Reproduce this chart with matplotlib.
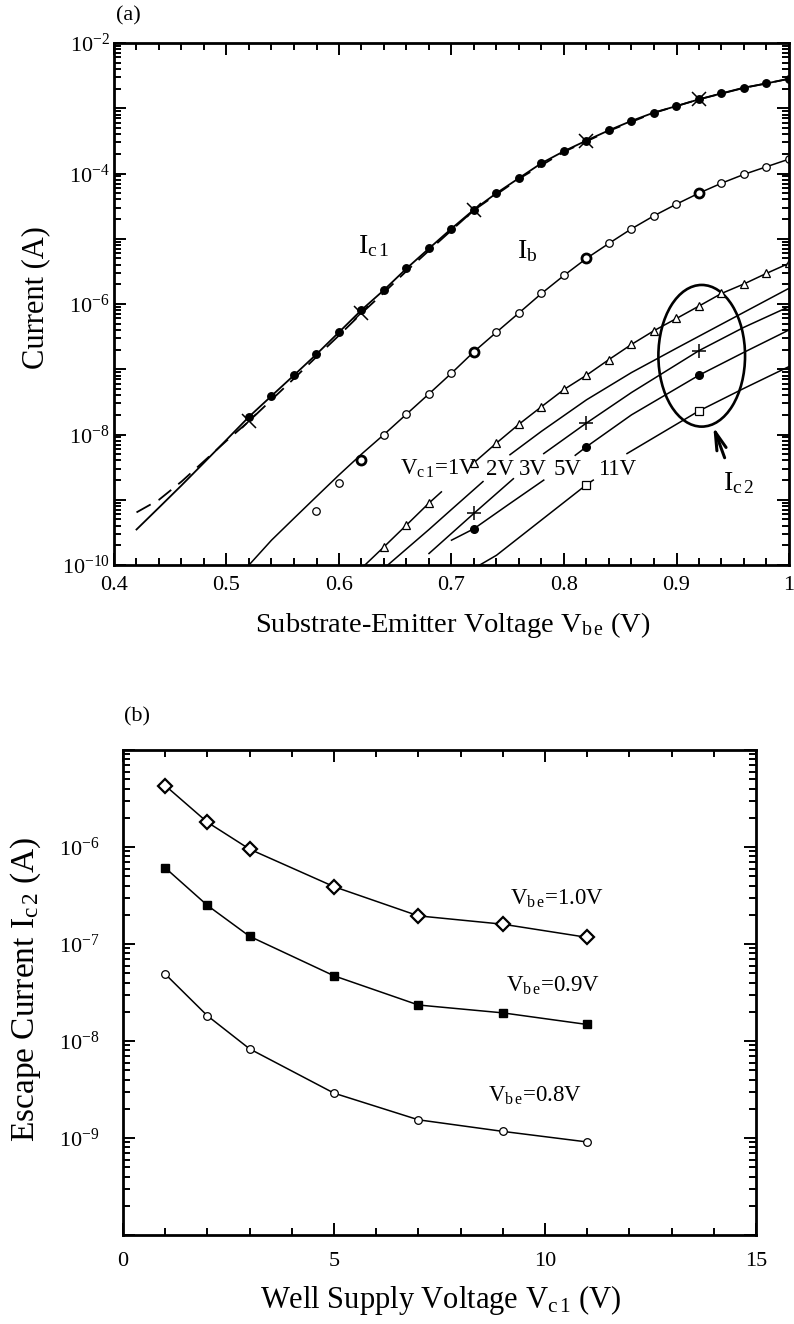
import numpy as np
import matplotlib
matplotlib.use('Agg')
import matplotlib.pyplot as plt
from matplotlib.ticker import LogLocator, FuncFormatter, MultipleLocator, NullFormatter
from matplotlib.patches import Ellipse

plt.rcParams['font.family'] = ['Liberation Serif', 'DejaVu Serif']
plt.rcParams['mathtext.fontset'] = 'custom'
plt.rcParams['mathtext.rm'] = 'Liberation Serif'
plt.rcParams['mathtext.it'] = 'Liberation Serif:italic'
plt.rcParams['mathtext.bf'] = 'Liberation Serif:bold'

nan = np.nan

# ---------------- (a) data ----------------
# I_c1 solid line and filled-circle data
ic1_line_v = [0.42, 0.44, 0.46, 0.48, 0.50]
ic1_line_i = [3.5e-10, 7.6e-10, 1.66e-9, 3.7e-9, 8.3e-9]
ic1_v = [0.52, 0.54, 0.56, 0.58, 0.60, 0.62, 0.64, 0.66, 0.68, 0.70, 0.72, 0.74, 0.76,
         0.78, 0.80, 0.82, 0.84, 0.86, 0.88, 0.90, 0.92, 0.94, 0.96, 0.98, 1.00]
ic1_i = [1.87e-8, 3.9e-8, 8.1e-8, 1.7e-7, 3.7e-7, 8.1e-7, 1.64e-6, 3.5e-6, 7.1e-6, 1.43e-5,
         2.8e-5, 5.0e-5, 8.5e-5, 1.44e-4, 2.2e-4, 3.2e-4, 4.6e-4, 6.4e-4, 8.6e-4, 1.08e-3,
         1.37e-3, 1.69e-3, 2.07e-3, 2.4e-3, 2.84e-3]
# I_c1 dashed curve
ic1_dash_v = [0.42, 0.44, 0.46, 0.48, 0.50, 0.52, 0.54, 0.56, 0.58, 0.60, 0.62, 0.64, 0.66,
              0.68, 0.70, 0.72, 0.76, 0.80, 0.84, 0.88, 0.92, 0.96, 1.00]
ic1_dash_i = [6.4e-10, 1.0e-9, 1.9e-9, 3.9e-9, 8.0e-9, 1.6e-8, 3.4e-8, 7.2e-8, 1.55e-7,
              3.3e-7, 7.2e-7, 1.5e-6, 3.2e-6, 6.6e-6, 1.35e-5, 2.75e-5, 8.3e-5, 2.15e-4,
              4.5e-4, 8.5e-4, 1.37e-3, 2.05e-3, 2.82e-3]
# I_c1 cross markers
ic1_x_v = [0.52, 0.62, 0.72, 0.82, 0.92]
ic1_x_i = [1.6e-8, 7.2e-7, 2.75e-5, 3.2e-4, 1.37e-3]

# I_b line
ib_line_v = [0.52, 0.54, 0.56, 0.58, 0.60, 0.62, 0.64, 0.66, 0.68, 0.70, 0.72, 0.74, 0.76,
             0.78, 0.80, 0.82, 0.84, 0.86, 0.88, 0.90, 0.92, 0.94, 0.96, 0.98, 1.00]
ib_line_i = [1.0e-10, 2.4e-10, 5.2e-10, 1.12e-9, 2.4e-9, 5.0e-9, 1.0e-8, 2.05e-8, 4.2e-8,
             8.7e-8, 1.86e-7, 3.7e-7, 7.3e-7, 1.45e-6, 2.74e-6, 5.0e-6, 8.5e-6, 1.42e-5,
             2.25e-5, 3.4e-5, 5.0e-5, 7.1e-5, 9.7e-5, 1.27e-4, 1.66e-4]
# I_b open circles
ib_v = [0.58, 0.60, 0.64, 0.66, 0.68, 0.70, 0.72, 0.74, 0.76, 0.78, 0.80, 0.82, 0.84,
        0.86, 0.88, 0.90, 0.92, 0.94, 0.96, 0.98, 1.00]
ib_i = [6.8e-10, 1.8e-9, 9.7e-9, 2.05e-8, 4.2e-8, 8.7e-8, 1.86e-7, 3.7e-7, 7.3e-7, 1.45e-6,
        2.74e-6, 5.0e-6, 8.5e-6, 1.42e-5, 2.25e-5, 3.4e-5, 5.0e-5, 7.1e-5, 9.7e-5, 1.27e-4,
        1.66e-4]
# I_b bold circles
ib_bold_v = [0.62, 0.72, 0.82, 0.92]
ib_bold_i = [4.1e-9, 1.86e-7, 5.0e-6, 5.0e-5]

# I_c2 curves (NaN = gap where label sits)
ic2_1v_v = [0.62, 0.64, 0.66, 0.68, 0.691, nan, 0.72, 0.74, 0.76, 0.78, 0.80, 0.82, 0.84,
            0.86, 0.88, 0.90, 0.92, 0.94, 0.96, 0.98, 1.00]
ic2_1v_i = [8.9e-11, 1.9e-10, 4.1e-10, 8.9e-10, 1.32e-9, nan, 3.7e-9, 7.4e-9, 1.44e-8,
            2.67e-8, 4.9e-8, 8.1e-8, 1.41e-7, 2.4e-7, 3.9e-7, 6.0e-7, 9.3e-7, 1.45e-6,
            2.03e-6, 2.95e-6, 4.2e-6]
ic2_1v_mk_v = [0.64, 0.66, 0.68, 0.72, 0.74, 0.76, 0.78, 0.80, 0.82, 0.84, 0.86, 0.88,
               0.90, 0.92, 0.94, 0.96, 0.98, 1.00]
ic2_1v_mk_i = [1.9e-10, 4.1e-10, 8.9e-10, 3.7e-9, 7.4e-9, 1.44e-8, 2.67e-8, 4.9e-8, 8.1e-8,
               1.41e-7, 2.4e-7, 3.9e-7, 6.0e-7, 9.3e-7, 1.45e-6, 2.03e-6, 2.95e-6, 4.2e-6]

ic2_2v_v = [0.64, 0.68, 0.70, 0.728, nan, 0.752, 0.78, 0.82, 0.86, 0.90, 0.94, 1.00]
ic2_2v_i = [8.9e-11, 3.5e-10, 7.1e-10, 1.9e-9, nan, 4.9e-9, 1.12e-8, 3.4e-8, 8.9e-8,
            2.1e-7, 4.9e-7, 1.74e-6]

ic2_3v_v = [0.68, 0.72, 0.755, nan, 0.782, 0.82, 0.86, 0.92, 0.96, 1.00]
ic2_3v_i = [1.5e-10, 6.2e-10, 2.1e-9, nan, 5.1e-9, 1.5e-8, 4.4e-8, 1.93e-7, 4.4e-7, 9.1e-7]
ic2_3v_mk_v = [0.72, 0.82, 0.92]
ic2_3v_mk_i = [6.2e-10, 1.5e-8, 1.93e-7]

ic2_5v_v = [0.70, 0.72, 0.75, 0.782, nan, 0.81, 0.82, 0.86, 0.92, 0.96, 1.00]
ic2_5v_i = [2.4e-10, 3.6e-10, 8.3e-10, 2.0e-9, nan, 4.8e-9, 6.5e-9, 2.0e-8, 8.1e-8,
            1.82e-7, 4.0e-7]
ic2_5v_mk_v = [0.72, 0.82, 0.92]
ic2_5v_mk_i = [3.6e-10, 6.5e-9, 8.1e-8]

ic2_11v_v = [0.722, 0.74, 0.78, 0.82, 0.826, nan, 0.856, 0.92, 0.96, 1.00]
ic2_11v_i = [9.3e-11, 1.41e-10, 4.9e-10, 1.7e-9, 2.0e-9, nan, 5.1e-9, 2.3e-8, 5.1e-8, 1.1e-7]
ic2_11v_mk_v = [0.82, 0.92]
ic2_11v_mk_i = [1.7e-9, 2.3e-8]

# ---------------- (b) data ----------------
vc1 = [1, 2, 3, 5, 7, 9, 11]
ic2_vbe10 = [4.3e-6, 1.8e-6, 9.5e-7, 3.9e-7, 1.95e-7, 1.6e-7, 1.17e-7]
ic2_vbe09 = [6.1e-7, 2.5e-7, 1.2e-7, 4.7e-8, 2.35e-8, 1.95e-8, 1.48e-8]
ic2_vbe08 = [4.9e-8, 1.82e-8, 8.3e-9, 2.9e-9, 1.54e-9, 1.17e-9, 9.1e-10]

# ---------------- figure ----------------
W, H = 794, 1324
fig = plt.figure(figsize=(W / 100, H / 100), dpi=100)

def fx(px):
    return px / W

def fy(py):
    return 1 - py / H

ax1 = fig.add_axes([fx(114), fy(565), (789 - 114) / W, (565 - 43) / H])
ax2 = fig.add_axes([fx(123), fy(1235), (756 - 123) / W, (1235 - 750) / H])

LW = 1.1
K = 'black'

# --- (a) ---
ax1.plot(ic1_line_v + ic1_v, ic1_line_i + ic1_i, '-', color=K, lw=1.3)
ax1.plot(ic1_dash_v, ic1_dash_i, color=K, lw=1.3, linestyle=(0, (9, 5)))
ax1.plot(ic1_v, ic1_i, 'o', color=K, ms=5.4, mfc=K, mec=K)
ax1.plot(ic1_x_v, ic1_x_i, 'x', color=K, ms=10, mew=1.1)

ax1.plot(ib_line_v, ib_line_i, '-', color=K, lw=LW)
ax1.plot(ib_v, ib_i, 'o', ms=5.4, mfc='white', mec=K, mew=0.9)
ax1.plot(ib_bold_v, ib_bold_i, 'o', ms=6.5, mfc='white', mec=K, mew=2.0)

ax1.plot(ic2_1v_v, ic2_1v_i, '-', color=K, lw=LW)
ax1.plot(ic2_1v_mk_v, ic2_1v_mk_i, '^', ms=5.5, mfc='white', mec=K, mew=0.9)
ax1.plot(ic2_2v_v, ic2_2v_i, '-', color=K, lw=LW)
ax1.plot(ic2_3v_v, ic2_3v_i, '-', color=K, lw=LW)
ax1.plot(ic2_3v_mk_v, ic2_3v_mk_i, '+', ms=10, mec=K, mew=1.1)
ax1.plot(ic2_5v_v, ic2_5v_i, '-', color=K, lw=LW)
ax1.plot(ic2_5v_mk_v, ic2_5v_mk_i, 'o', ms=5.5, mfc=K, mec=K)
ax1.plot(ic2_11v_v, ic2_11v_i, '-', color=K, lw=LW)
ax1.plot(ic2_11v_mk_v, ic2_11v_mk_i, 's', ms=5.8, mfc='white', mec=K, mew=0.9)

ax1.set_xlim(0.4, 1.0)
ax1.set_yscale('log')
ax1.set_ylim(1e-10, 1e-2)

ax1.xaxis.set_major_locator(MultipleLocator(0.1))
ax1.xaxis.set_minor_locator(MultipleLocator(0.02))
ax1.xaxis.set_major_formatter(FuncFormatter(lambda x, p: f'{round(x, 2):g}'))
ax1.yaxis.set_major_locator(LogLocator(base=10, numticks=30))
ax1.yaxis.set_minor_locator(LogLocator(base=10, subs=np.arange(2, 10), numticks=100))
ax1.yaxis.set_minor_formatter(NullFormatter())

def fmt_top(y, pos):
    e = int(round(np.log10(y)))
    return r'$\mathregular{10^{%d}}$' % e if e % 2 == 0 else ''

ax1.yaxis.set_major_formatter(FuncFormatter(fmt_top))

ell = Ellipse((0.8707, 0.4008), 0.1284, 0.2714, transform=ax1.transAxes,
              fill=False, lw=1.9, ec=K)
ax1.add_patch(ell)
ax1.annotate('', xy=(0.9327, 1.32e-8), xytext=(0.9428, 4.4e-9),
             arrowprops=dict(arrowstyle='->,head_length=1.3,head_width=0.35',
                             lw=2.2, color=K, shrinkA=0, shrinkB=0))

ax1.text(0.6169, 6.05e-6, r'I$_{\rm c\,1}$', fontsize=20, ha='left', va='baseline')
ax1.text(0.7582, 5.07e-6, r'I$_{\rm b}$', fontsize=20, ha='left', va='baseline')
ax1.text(0.9413, 1.41e-9, r'I$_{\rm c\,2}$', fontsize=20, ha='left', va='baseline')

lab_y = 2.4e-9
ax1.text(0.6542, lab_y, r'V$_{\rm c\,1}$=1V', fontsize=16.5, ha='left', va='baseline')
ax1.text(0.7307, lab_y, '2V', fontsize=16.5, ha='left', va='baseline')
ax1.text(0.7603, lab_y, '3V', fontsize=16.5, ha='left', va='baseline')
ax1.text(0.7911, lab_y, '5V', fontsize=16.5, ha='left', va='baseline')
ax1.text(0.8305, lab_y, '11V', fontsize=16.5, ha='left', va='baseline')

# --- (b) ---
ax2.plot(vc1, ic2_vbe10, '-', color=K, lw=LW)
ax2.plot(vc1, ic2_vbe10, 'D', ms=7.5, mfc='white', mec=K, mew=1.6)
ax2.plot(vc1, ic2_vbe09, '-', color=K, lw=LW)
ax2.plot(vc1, ic2_vbe09, 's', ms=6.2, mfc=K, mec=K)
ax2.plot(vc1, ic2_vbe08, '-', color=K, lw=LW)
ax2.plot(vc1, ic2_vbe08, 'o', ms=5.5, mfc='white', mec=K, mew=0.9)

ax2.set_xlim(0, 15)
ax2.set_yscale('log')
ax2.set_ylim(1e-10, 1e-5)
ax2.xaxis.set_major_locator(MultipleLocator(5))
ax2.xaxis.set_minor_locator(MultipleLocator(1))
ax2.xaxis.set_major_formatter(FuncFormatter(lambda x, p: f'{x:g}'))
ax2.yaxis.set_major_locator(LogLocator(base=10, numticks=30))
ax2.yaxis.set_minor_locator(LogLocator(base=10, subs=np.arange(2, 10), numticks=100))
ax2.yaxis.set_minor_formatter(NullFormatter())

def fmt_bot(y, pos):
    e = int(round(np.log10(y)))
    return r'$\mathregular{10^{%d}}$' % e if -9 <= e <= -6 else ''

ax2.yaxis.set_major_formatter(FuncFormatter(fmt_bot))

ax2.text(9.17, 2.52e-7, r'V$_{\rm b\,e}$=1.0V', fontsize=16.5, ha='left', va='baseline')
ax2.text(9.08, 3.2e-8, r'V$_{\rm b\,e}$=0.9V', fontsize=16.5, ha='left', va='baseline')
ax2.text(8.65, 2.35e-9, r'V$_{\rm b\,e}$=0.8V', fontsize=16.5, ha='left', va='baseline')

for ax in (ax1, ax2):
    for s in ax.spines.values():
        s.set_linewidth(2.0)
    ax.tick_params(which='both', direction='in', top=True, right=True, width=1.4,
                   labelsize=16)
    ax.tick_params(which='major', length=8.5)
    ax.tick_params(which='minor', length=5)

ax1.tick_params(axis='x', pad=8)
ax1.tick_params(axis='y', pad=3)
ax2.tick_params(axis='x', pad=12)
ax2.tick_params(axis='y', pad=17)

# axis labels and panel tags
fig.text(fx(453), fy(632), r'Substrate-Emitter Voltage V$_{\rm b\,e}$ (V)', fontsize=20.5,
         ha='center', va='baseline')
fig.text(fx(36), fy(298), 'Current (A)', fontsize=22, ha='center', va='center',
         rotation=90)
fig.text(fx(441), fy(1308), r'Well Supply Voltage V$_{\rm c\,1}$ (V)', fontsize=22,
         ha='center', va='baseline')
fig.text(fx(26), fy(989), r'Escape Current I$_{\rm c\,2}$ (A)', fontsize=24, ha='center',
         va='center', rotation=90)
fig.text(fx(128), fy(16), '(a)', fontsize=16, ha='center', va='center')
fig.text(fx(137), fy(717), '(b)', fontsize=16, ha='center', va='center')

fig.savefig('out.png', dpi=100)
